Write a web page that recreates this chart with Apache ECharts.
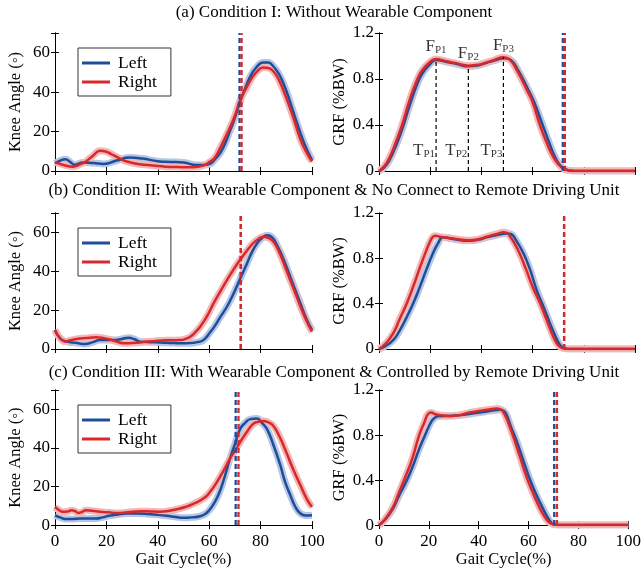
<!DOCTYPE html>
<html>
<head>
<meta charset="utf-8">
<script src="https://cdn.jsdelivr.net/npm/echarts@6/dist/echarts.min.js"></script>
<style>
  html, body { margin: 0; padding: 0; background: #fff; }
  #chart { width: 644px; height: 569px; }
</style>
</head>
<body>
<div id="chart"></div>
<script>
// Knee flexion angle (deg) and vertical GRF (%BW) over one gait cycle, three conditions.
const rowTitles = [
  '(a) Condition I: Without Wearable Component',
  '(b) Condition II: With Wearable Component & No Connect to Remote Driving Unit',
  '(c) Condition III: With Wearable Component & Controlled by Remote Driving Unit'
];
const seriesNames = ['Left', 'Right'];
const xTicks = [0, 20, 40, 60, 80, 100];
const kneeTicks = [0, 20, 40, 60];
const grfTicks = [0, 0.4, 0.8, 1.2];

// Condition I
const kneeA_L = [[0,3.9],[2,5.2],[4,6],[6,4.5],[7.5,3.2],[11,4.3],[15,4],[19,3.6],[24,5.3],[29,6.8],[34,6.3],[40,5],[45,4.6],[50,4.3],[55,3],[59,3.2],[63,7],[65.5,12],[68,20],[70,27],[72,35],[74,42],[76,48],[78,52],[81,55],[83,55],[85,53],[87,49.5],[89,44],[91,37],[94,25],[97,14],[100,5.5]];
const kneeA_R = [[0,4.4],[3,3.2],[7,2.2],[10,3.5],[12,4.8],[15,8],[17.5,10.3],[20,9.8],[22,8.5],[25,6.5],[28,4.8],[33,3.4],[38,2.8],[43,2.2],[48,2],[54,1.9],[58,2.9],[60,4.5],[62,6.5],[64,11],[67,19],[70,28],[72,36],[74,41],[77,48],[79,51],[81,52.5],[83,52.3],[85,50.5],[87,46.5],[90,37],[93,26],[95.5,16],[98,9],[100,4.8]];
const grfA_L = [[0,0],[2,0.03],[4,0.09],[7,0.24],[9,0.36],[12,0.57],[15,0.76],[17,0.85],[20,0.93],[22.3,0.965],[24,0.96],[26.4,0.948],[30,0.932],[35,0.91],[39,0.92],[42,0.94],[45,0.96],[49,0.98],[51.5,0.965],[54.5,0.87],[58.3,0.707],[60.6,0.6],[63.6,0.42],[66.6,0.24],[68.6,0.13],[70.6,0.055],[72.6,0.018],[74.5,0.004],[76.5,0],[100,0]];
const grfA_R = [[0,0],[2,0.04],[4,0.11],[6.9,0.27],[9,0.4],[12,0.62],[15,0.8],[17,0.88],[20,0.95],[22.3,0.975],[24,0.968],[26.4,0.954],[30,0.938],[35,0.916],[39,0.925],[42,0.945],[45,0.965],[48.6,0.99],[51,0.97],[54,0.87],[57.7,0.707],[60,0.6],[63,0.39],[66,0.22],[68,0.125],[70,0.06],[72,0.02],[74,0.005],[76,0],[100,0]];

// Condition II
const kneeB_L = [[0,9.8],[2,5.5],[4.5,3.8],[8,3.2],[11.7,2.6],[14.5,3.4],[17.5,4.6],[23,4.6],[26,5.2],[28.6,5.8],[31,5],[33,3.8],[37,3.5],[41,3.4],[46,3.1],[51,2.9],[56.5,3.8],[58.5,5.5],[60,8],[62,11.5],[64,15.8],[67,22],[69.5,28.6],[72,36],[74.7,44],[76.5,49.5],[78.6,54.3],[80.5,57],[82.5,58.6],[84.5,57.5],[86.4,53.5],[89,46],[91.6,37],[95.5,23.5],[98,15],[100,9.8]];
const kneeB_R = [[0,9.8],[2,5.5],[4,3.8],[6,4.5],[8.4,5.1],[12,5.6],[16,6],[19,5.6],[21,5],[24,3.8],[27,2.9],[30,3.1],[33,3.4],[40,4.3],[45,4.5],[49,4.6],[51,5.3],[52.6,6.3],[54.5,8.5],[56.5,11.5],[59,16.5],[61.7,23.5],[64.5,30],[66.9,35.5],[69.5,41],[72,45.8],[74.5,50.3],[77,54.3],[79,56.5],[81,57.8],[83,57.2],[85,55.2],[87.5,49],[90,40.6],[93,30.5],[95.5,21.8],[98,14],[100,8.9]];
const grfB_L = [[0,0],[2.5,0.025],[5.6,0.08],[8,0.16],[10.8,0.28],[13.5,0.41],[16,0.55],[18.5,0.7],[21,0.84],[23,0.93],[25,0.985],[27,0.98],[29,0.97],[35.5,0.955],[39,0.965],[42,0.985],[46,1.005],[50,1.02],[51.5,1.015],[53.5,0.96],[56.5,0.84],[59,0.7],[61.6,0.52],[64.5,0.36],[66.8,0.226],[68.8,0.12],[70.7,0.035],[72.3,0.008],[74,0],[100,0]];
const grfB_R = [[0,0],[2.5,0.045],[5.6,0.14],[8,0.26],[10.8,0.4],[13.5,0.56],[16,0.72],[18.5,0.87],[20,0.95],[21,0.99],[22,1.0],[23.8,0.99],[29,0.975],[35.5,0.96],[39,0.97],[42,0.99],[46,1.015],[48.6,1.03],[50,1.025],[51,1.0],[53,0.93],[55,0.84],[57.5,0.7],[60,0.55],[63,0.4],[65.5,0.255],[67.5,0.14],[69.4,0.05],[71,0.015],[72.5,0.003],[74,0],[100,0]];

// Condition III
const kneeC_L = [[0,5.1],[2,4],[4.5,3.1],[7,3.2],[9.7,3.4],[13,3.4],[16,3.4],[18.5,4],[21,4.8],[24.5,5.5],[28,6],[32,6],[35.7,5.8],[40,5.3],[43.5,4.8],[47,4.2],[50,3.8],[53,4],[56.5,4.6],[58.5,5.8],[60,7.7],[62,11.5],[64,17],[66,25],[68,34],[70,42],[72,49.7],[74,53],[76,54.9],[78.6,55.2],[80.5,53],[82.5,49.7],[85,41.5],[87.7,30.9],[89.5,22.5],[91.6,15.4],[93.5,9.5],[95.5,6],[97.5,5],[100,5.1]];
const kneeC_R = [[0,9.4],[1.5,7.8],[3,6.9],[4.8,7],[6.5,7.7],[8,7.1],[9,6.3],[10.5,6.8],[12,7.7],[14.5,7.4],[17.5,6.9],[21,6.6],[24,6.3],[28,6.6],[33,7.2],[37,7.1],[41,6.9],[44,7.3],[47.4,8.2],[51,9.5],[54,11.1],[58,14],[60.5,17.5],[63,22.3],[65.5,28],[68,34.3],[70,38.5],[72,42.9],[74.5,48],[77,52.3],[79,53.5],[81,54],[83,53.2],[85,51.4],[87.5,45.5],[90,37.7],[92.5,29.5],[95.5,20.6],[98,13.5],[100,9.4]];
const grfC_L = [[0,0],[2.5,0.05],[5.6,0.146],[8,0.26],[10.8,0.38],[13.5,0.52],[16,0.67],[18.5,0.8],[21,0.92],[22.5,0.955],[23.8,0.966],[29,0.97],[32,0.975],[35.5,0.985],[39,0.995],[42,1.005],[46,1.02],[48.6,1.024],[50,1.015],[51,0.99],[53,0.87],[55,0.76],[57.5,0.6],[60,0.44],[62.5,0.3],[65.5,0.16],[67.5,0.075],[69.4,0.015],[71,0.002],[72.5,0],[100,0]];
const grfC_R = [[0,0],[2.5,0.055],[5.6,0.16],[8,0.29],[10.8,0.44],[13.5,0.6],[16,0.79],[18,0.9],[20,0.995],[21,1.0],[22.5,0.985],[25,0.975],[29,0.97],[32,0.975],[35.5,0.995],[39,1.01],[42,1.02],[45,1.03],[47.3,1.035],[48.6,1.03],[50,1.0],[52,0.9],[53.8,0.79],[56.5,0.61],[59,0.44],[61.5,0.3],[64,0.175],[66,0.09],[68,0.03],[70,0.006],[72,0],[100,0]];

// Toe-off instants (% gait cycle) per condition
const toeOffL = [71.8, 72.3, 70.3];
const toeOffR = [72.6, 72.3, 71.4];

// GRF peak instants and magnitudes (Condition I, right)
const peakNames = ['P1', 'P2', 'P3'];
const peakT = [22.3, 34.9, 48.6];
const peakF = [0.975, 0.916, 0.99];
const peakTimeLabelY = 0.18;

const kneeData = [[kneeA_L, kneeA_R], [kneeB_L, kneeB_R], [kneeC_L, kneeC_R]];
const grfData = [[grfA_L, grfA_R], [grfB_L, grfB_R], [grfC_L, grfC_R]];

const BLUE = '#1d4e9b';
const RED = '#d8282c';
const BLUE_BAND = '#b6c6e3';
const RED_BAND = '#f2b8b8';
const FONT = '"Liberation Serif", "Times New Roman", serif';

const rowTops = [33, 213, 390];
const rowHeights = [138, 136, 137];
const colLeft = [55, 379];
const colWidth = [257, 256];

const grids = [], xAxes = [], yAxes = [], series = [], legends = [], graphics = [];

const tickStyle = { show: true, inside: true, length: 4, lineStyle: { color: '#000', width: 1 } };
const lineAxis = { show: true, lineStyle: { color: '#000', width: 1 } };

function subLabel(letter) {
  return {
    formatter: p => '{a|' + letter + '}{s|' + p.name + '}',
    rich: {
      a: { fontFamily: FONT, fontSize: 17, color: '#000' },
      s: { fontFamily: FONT, fontSize: 11, color: '#000', verticalAlign: 'bottom', padding: [7, 0, 0, 0] }
    }
  };
}

function curve(d, xi, yi, color, width, z, name) {
  const s = {
    type: 'line', xAxisIndex: xi, yAxisIndex: yi, data: d,
    smooth: 0.5, symbol: 'none', showSymbol: false, z: z,
    lineStyle: { color: color, width: width },
    emphasis: { disabled: true }
  };
  if (name) { s.name = name; s.color = color; } else { s.silent = true; }
  return s;
}

function addPanel(row, col) {
  const gi = grids.length;
  grids.push({ left: colLeft[col], top: rowTops[row], width: colWidth[col], height: rowHeights[row] });
  const isKnee = col === 0;
  const yMax = isKnee ? 70 : 1.2;
  const yInt = isKnee ? 20 : 0.4;
  const showX = row === 2;
  xAxes.push({
    gridIndex: gi, type: 'value', min: 0, max: 100, interval: 20, position: 'bottom',
    axisLine: lineAxis, axisTick: tickStyle, splitLine: { show: false },
    axisLabel: { show: showX, color: '#000', fontFamily: FONT, fontSize: 17, margin: 8 },
    name: showX ? 'Gait Cycle(%)' : '', nameLocation: 'middle', nameGap: 24,
    nameTextStyle: { color: '#000', fontFamily: FONT, fontSize: 16.5 }
  });
  xAxes.push({
    gridIndex: gi, type: 'value', min: 0, max: 100, interval: 20, position: 'top',
    axisLine: lineAxis, axisTick: tickStyle, axisLabel: { show: false }, splitLine: { show: false }
  });
  yAxes.push({
    gridIndex: gi, type: 'value', min: 0, max: yMax, interval: yInt, position: 'left',
    axisLine: lineAxis, axisTick: tickStyle, splitLine: { show: false },
    axisLabel: {
      color: '#000', fontFamily: FONT, fontSize: 17, margin: 5,
      formatter: v => (isKnee ? kneeTicks : grfTicks).some(t => Math.abs(t - v) < 1e-6) ? String(+v.toFixed(1)) : ''
    },
    name: isKnee ? 'Knee Angle (\u25e6)' : 'GRF (%BW)', nameLocation: 'middle', nameGap: 31,
    nameTextStyle: { color: '#000', fontFamily: FONT, fontSize: 16.5 }
  });
  yAxes.push({
    gridIndex: gi, type: 'value', min: 0, max: yMax, interval: yInt, position: 'right',
    axisLine: lineAxis, axisTick: tickStyle, axisLabel: { show: false }, splitLine: { show: false }
  });
  const xi = gi * 2, yi = gi * 2;
  const pair = isKnee ? kneeData[row] : grfData[row];
  const colors = [BLUE, RED];
  const bands = [BLUE_BAND, RED_BAND];
  // variability bands drawn as wide light strokes under the mean curves
  pair.forEach((d, k) => series.push(curve(d, xi, yi, bands[k], 7, 1)));
  pair.forEach((d, k) => series.push(curve(d, xi, yi, colors[k], 2.5, 3, seriesNames[k])));
  // toe-off markers
  [toeOffL[row], toeOffR[row]].forEach((t, k) => {
    series.push({
      type: 'line', xAxisIndex: xi, yAxisIndex: yi, data: [[t, 0], [t, yMax]],
      symbol: 'none', silent: true, z: 4,
      lineStyle: { color: colors[k], width: 2.3, type: [5, 3] }
    });
  });
  if (!isKnee && row === 0) {
    peakT.forEach((t, k) => {
      series.push({
        type: 'line', xAxisIndex: xi, yAxisIndex: yi, data: [[t, 0], [t, peakF[k]]],
        symbol: 'none', silent: true, z: 5,
        lineStyle: { color: '#000', width: 1.2, type: [4, 3] }
      });
    });
    series.push({
      type: 'scatter', xAxisIndex: xi, yAxisIndex: yi, symbolSize: 0, z: 6, silent: true,
      data: peakT.map((t, k) => ({ value: [t, peakF[k]], name: peakNames[k] })),
      label: Object.assign({ show: true, position: 'top', distance: 3 }, subLabel('F'))
    });
    series.push({
      type: 'scatter', xAxisIndex: xi, yAxisIndex: yi, symbolSize: 0, z: 6, silent: true,
      data: peakT.map((t, k) => ({ value: [t, peakTimeLabelY], name: peakNames[k] })),
      label: Object.assign({ show: true, position: 'left', distance: 1 }, subLabel('T'))
    });
  }
  if (isKnee) {
    legends.push({
      data: seriesNames, orient: 'vertical', left: 78, top: rowTops[row] + 15,
      icon: 'rect', itemWidth: 28, itemHeight: 3, itemGap: 1,
      borderColor: '#333', borderWidth: 1, padding: [6, 14, 5, 4],
      textStyle: { fontFamily: FONT, fontSize: 17.5, color: '#000', padding: [0, 0, 0, 3] },
      selectedMode: false
    });
  }
}

for (let r = 0; r < 3; r++) { addPanel(r, 0); addPanel(r, 1); }

const titleY = [13, 191, 373];
rowTitles.forEach((t, r) => {
  graphics.push({
    type: 'text', x: 334, y: titleY[r],
    style: { text: t, fontFamily: FONT, fontSize: 17, fill: '#000', textAlign: 'center', textVerticalAlign: 'middle' }
  });
});

const chart = echarts.init(document.getElementById('chart'), null, { renderer: 'canvas' });
chart.setOption({
  animation: false,
  backgroundColor: '#fff',
  grid: grids, xAxis: xAxes, yAxis: yAxes, series: series, legend: legends, graphic: graphics
});
</script>
</body>
</html>
